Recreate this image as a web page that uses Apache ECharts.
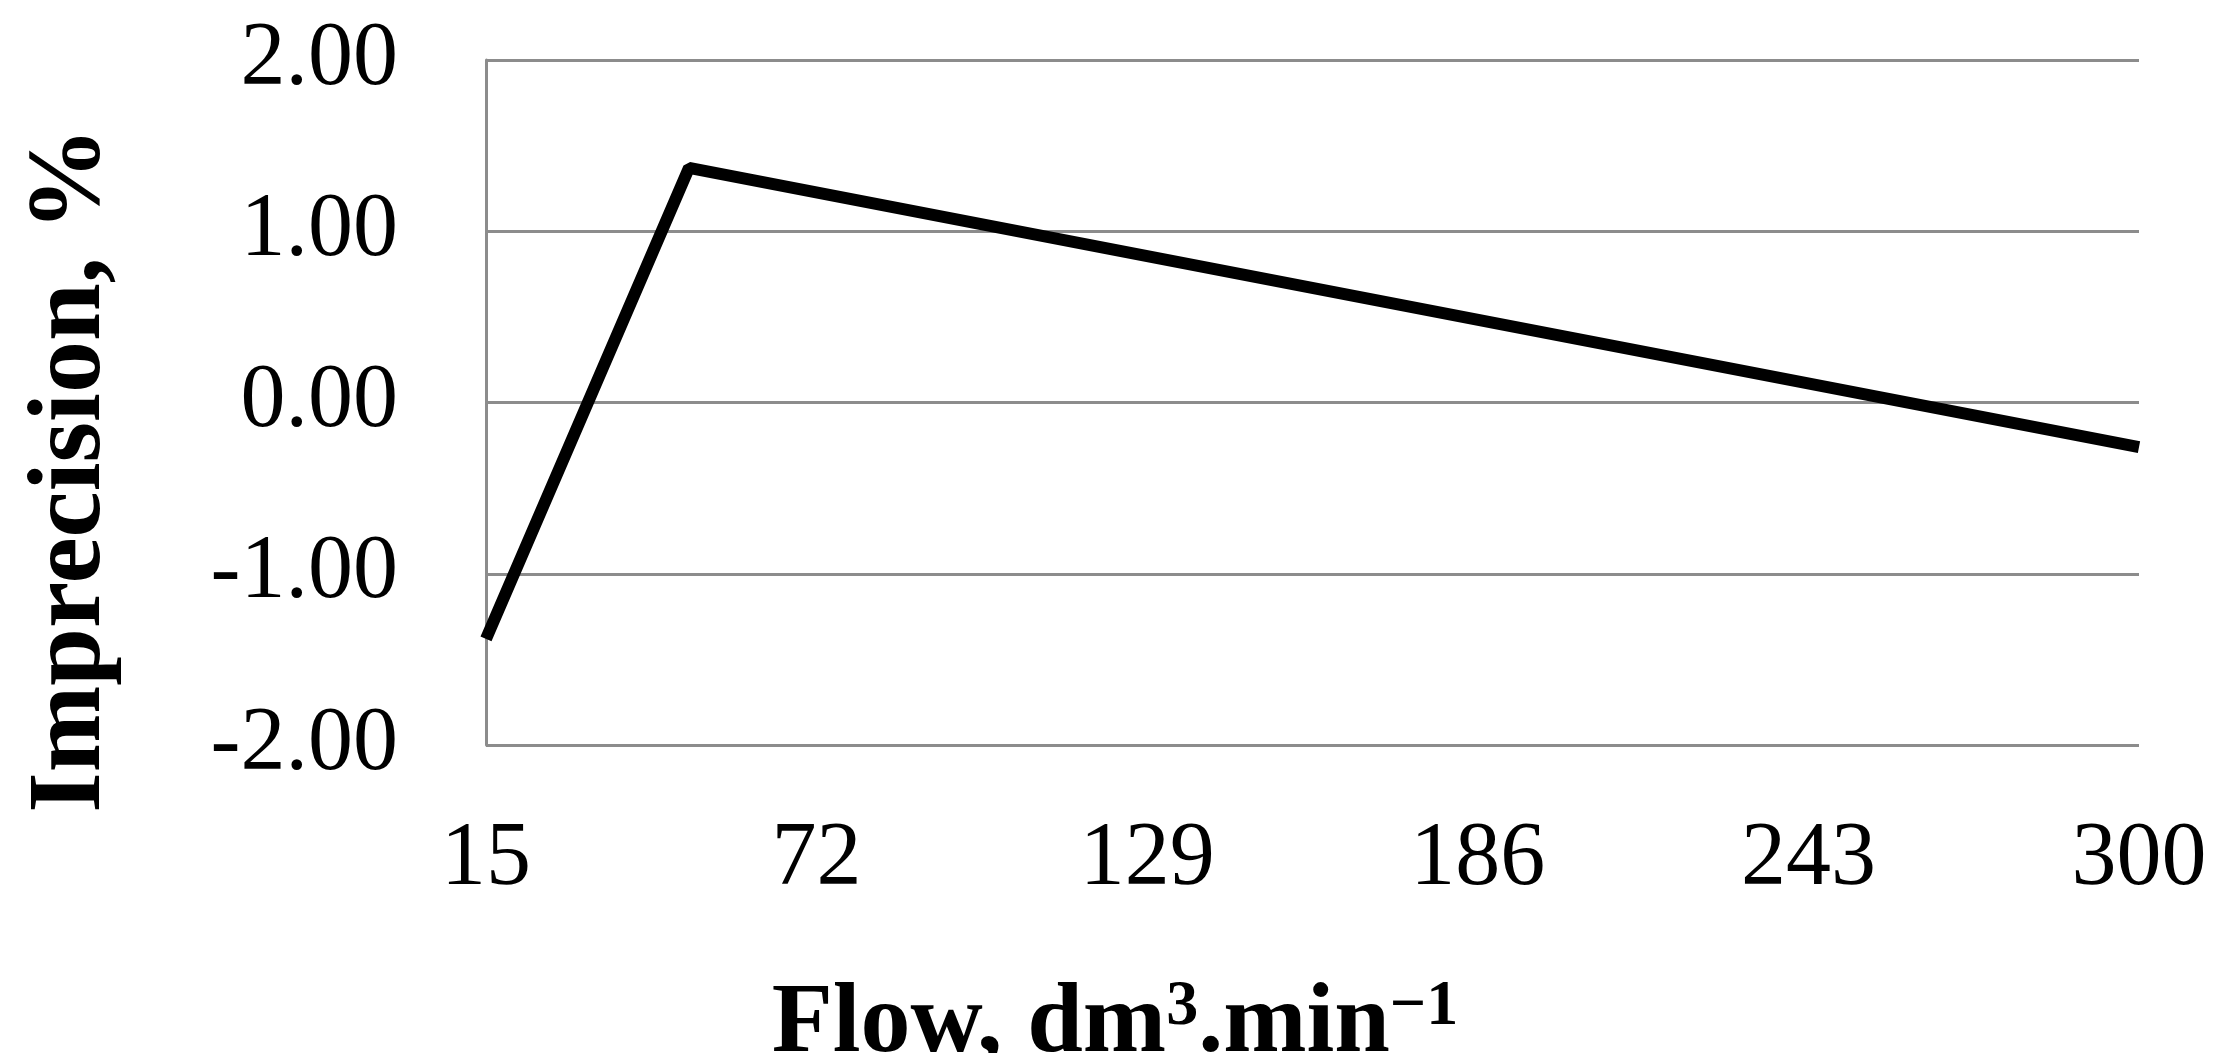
<!DOCTYPE html>
<html><head><meta charset="utf-8">
<script src="https://cdn.jsdelivr.net/npm/echarts@6/dist/echarts.min.js"></script>
<style>html,body{margin:0;background:#fff}#c{width:2230px;height:1053px}</style>
</head><body><div id="c"></div>
<script>
const flow = [15, 50, 300];
const imprecision = [-1.38, 1.37, -0.26];
const xTicks = [15, 72, 129, 186, 243, 300];
const yTicks = [-2, -1, 0, 1, 2];
const font = 'Liberation Serif';
const chart = echarts.init(document.getElementById('c'));
chart.setOption({
  animation: false,
  grid: {left: 486, right: 91, top: 60, bottom: 308},
  xAxis: {
    type: 'value', min: 15, max: 300,
    axisLine: {show: false}, axisTick: {show: false}, splitLine: {show: false},
    axisLabel: {customValues: xTicks, margin: 70, color: '#000', fontFamily: font, fontSize: 90}
  },
  yAxis: {
    type: 'value', min: -2, max: 2, interval: 1,
    axisLine: {show: true, lineStyle: {color: '#8c8c8c', width: 3}},
    axisTick: {show: false},
    splitLine: {lineStyle: {color: '#8c8c8c', width: 3}},
    axisLabel: {margin: 88, color: '#000', fontFamily: font, fontSize: 90,
      formatter: v => v.toFixed(2)}
  },
  graphic: [
    {type: 'text', left: 'center', top: 975,
     style: {text: '{a|Flow, dm}{s|3}{a|.min}{s|−1}', rich: {
       a: {fontFamily: font, fontWeight: 'bold', fontSize: 100, fill: '#000'},
       s: {fontFamily: font, fontWeight: 'bold', fontSize: 64, fill: '#000', verticalAlign: 'top', padding: [0,0,34,0]}
     }}},
    {type: 'text', x: 72, y: 470, rotation: Math.PI/2,
     style: {text: 'Imprecision, %', fontFamily: font, fontWeight: 'bold', fontSize: 104, fill: '#000', align: 'center', verticalAlign: 'middle'}}
  ],
  series: [{type: 'line', data: flow.map((f,i)=>[f, imprecision[i]]), symbol: 'none',
    lineStyle: {color: '#000', width: 12}}]
});
</script></body></html>
